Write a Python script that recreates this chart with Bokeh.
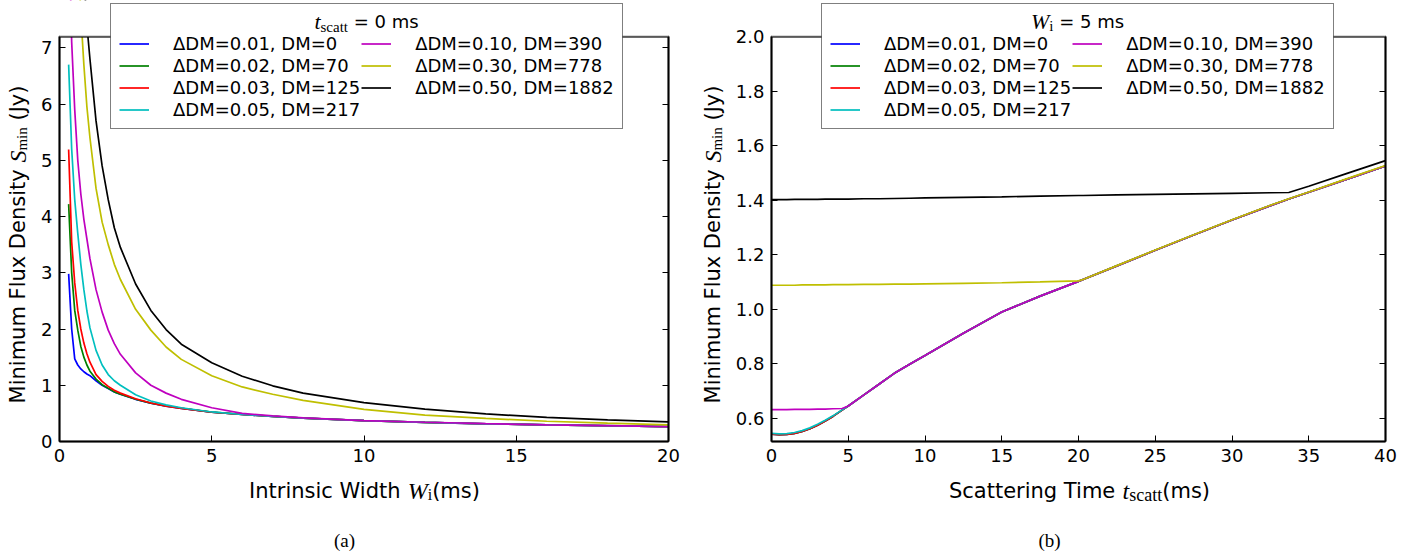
import math

from bokeh.embed import file_html
from bokeh.layouts import row
from bokeh.models import (BoxAnnotation, FixedTicker, Label, Legend, LegendItem,
                          LinearAxis, PrintfTickFormatter, Range1d)
from bokeh.plotting import figure
from bokeh.resources import INLINE

# ---------------------------------------------------------------- data
SERIES_LABELS = ["ΔDM=0.01, DM=0", "ΔDM=0.02, DM=70", "ΔDM=0.03, DM=125",
                 "ΔDM=0.05, DM=217", "ΔDM=0.10, DM=390", "ΔDM=0.30, DM=778",
                 "ΔDM=0.50, DM=1882"]
SERIES_COLORS = ["#0000ff", "#008000", "#ff0000", "#00bfbf",
                 "#bf00bf", "#bfbf00", "#000000"]

# (a) S_min against intrinsic width W_i, t_scatt = 0 ms
W_I = [0.3, 0.4, 0.5, 0.6, 0.7, 0.8, 0.9, 1.0, 1.2, 1.4, 1.6, 1.8, 2.0, 2.5,
       3.0, 3.5, 4.0, 5.0, 6.0, 7.0, 8.0, 10.0, 12.0, 14.0, 16.0, 18.0, 20.0]
S_A_DM001 = [2.98, 2.00, 1.47, 1.36, 1.29, 1.24, 1.20, 1.17, 1.08, 1.00, 0.94, 0.88, 0.84, 0.75,
             0.68, 0.63, 0.59, 0.52, 0.48, 0.445, 0.415, 0.37, 0.34, 0.315, 0.295, 0.28, 0.265]
S_A_DM002 = [4.22, 3.00, 2.33, 1.98, 1.69, 1.50, 1.36, 1.25, 1.11, 1.01, 0.945, 0.882, 0.842, 0.752,
             0.681, 0.631, 0.591, 0.521, 0.481, 0.446, 0.416, 0.371, 0.341, 0.316, 0.296, 0.281, 0.266]
S_A_DM003 = [5.19, 3.55, 2.82, 2.33, 2.00, 1.75, 1.56, 1.41, 1.19, 1.07, 0.98, 0.91, 0.86, 0.76,
             0.685, 0.63, 0.59, 0.52, 0.48, 0.445, 0.415, 0.37, 0.34, 0.315, 0.295, 0.28, 0.262]
S_A_DM005 = [6.70, 5.20, 4.30, 3.70, 3.15, 2.70, 2.32, 2.02, 1.62, 1.36, 1.19, 1.08, 1.00, 0.83,
             0.72, 0.65, 0.60, 0.525, 0.48, 0.445, 0.415, 0.37, 0.34, 0.315, 0.295, 0.28, 0.265]
S_A_DM010 = [9.50, 7.10, 5.90, 5.00, 4.40, 3.95, 3.60, 3.25, 2.70, 2.30, 1.98, 1.74, 1.55, 1.22,
             1.00, 0.86, 0.75, 0.60, 0.50, 0.455, 0.42, 0.372, 0.342, 0.317, 0.297, 0.281, 0.266]
S_A_DM030 = [17.0, 13.0, 10.5, 8.80, 7.60, 6.70, 5.95, 5.40, 4.50, 3.90, 3.50, 3.15, 2.88, 2.35,
             1.98, 1.68, 1.46, 1.17, 0.97, 0.84, 0.73, 0.57, 0.47, 0.41, 0.36, 0.325, 0.295]
S_A_DM050 = [22.0, 16.5, 13.5, 11.2, 9.60, 8.30, 7.40, 6.80, 5.70, 4.90, 4.30, 3.80, 3.45, 2.80,
             2.33, 1.99, 1.73, 1.40, 1.16, 0.99, 0.86, 0.69, 0.575, 0.49, 0.43, 0.385, 0.35]

# (b) S_min against scattering time t_scatt, W_i = 5 ms
T_SCATT = [0, 0.5, 1, 1.5, 2, 2.5, 3, 3.5, 4, 4.6, 5, 6, 7, 8, 9, 10, 12.5, 15,
           17.5, 20, 20.3, 22.5, 25, 27.5, 30, 32.5, 33.7, 35, 37.5, 40]
S_B_DM001 = [0.542, 0.540, 0.541, 0.545, 0.552, 0.562, 0.575, 0.590, 0.607, 0.630, 0.645,
             0.685, 0.725, 0.765, 0.798, 0.830, 0.912, 0.990, 1.048, 1.102, 1.109, 1.159,
             1.216, 1.272, 1.327, 1.380, 1.404, 1.429, 1.477, 1.525]
S_B_DM002 = [0.542, 0.540, 0.541, 0.545, 0.552, 0.562, 0.575, 0.590, 0.607, 0.630, 0.645,
             0.685, 0.725, 0.765, 0.798, 0.830, 0.912, 0.990, 1.048, 1.102, 1.109, 1.159,
             1.216, 1.272, 1.327, 1.380, 1.404, 1.429, 1.477, 1.525]
S_B_DM003 = [0.542, 0.540, 0.541, 0.545, 0.552, 0.562, 0.575, 0.590, 0.607, 0.630, 0.645,
             0.685, 0.725, 0.765, 0.798, 0.830, 0.912, 0.990, 1.048, 1.102, 1.109, 1.159,
             1.216, 1.272, 1.327, 1.380, 1.404, 1.429, 1.477, 1.525]
S_B_DM005 = [0.545, 0.543, 0.544, 0.548, 0.555, 0.565, 0.578, 0.593, 0.609, 0.631, 0.645,
             0.685, 0.725, 0.765, 0.798, 0.830, 0.912, 0.990, 1.048, 1.102, 1.109, 1.159,
             1.216, 1.272, 1.327, 1.380, 1.404, 1.429, 1.477, 1.525]
S_B_DM010 = [0.632, 0.632, 0.632, 0.633, 0.633, 0.633, 0.634, 0.634, 0.635, 0.636, 0.645,
             0.685, 0.725, 0.765, 0.798, 0.830, 0.912, 0.990, 1.048, 1.102, 1.109, 1.159,
             1.216, 1.272, 1.327, 1.380, 1.404, 1.429, 1.477, 1.525]
S_B_DM030 = [1.088, 1.088, 1.088, 1.088, 1.089, 1.089, 1.089, 1.089, 1.090, 1.090, 1.090,
             1.091, 1.091, 1.092, 1.092, 1.093, 1.095, 1.097, 1.100, 1.104, 1.109, 1.160,
             1.217, 1.273, 1.328, 1.381, 1.405, 1.430, 1.479, 1.527]
S_B_DM050 = [1.402, 1.402, 1.402, 1.403, 1.403, 1.403, 1.403, 1.404, 1.404, 1.404, 1.404,
             1.405, 1.405, 1.406, 1.407, 1.408, 1.410, 1.412, 1.415, 1.417, 1.417, 1.419,
             1.421, 1.423, 1.425, 1.427, 1.428, 1.451, 1.498, 1.545]

SERIES_A = [S_A_DM001, S_A_DM002, S_A_DM003, S_A_DM005, S_A_DM010, S_A_DM030, S_A_DM050]
SERIES_B = [S_B_DM001, S_B_DM002, S_B_DM003, S_B_DM005, S_B_DM010, S_B_DM030, S_B_DM050]

TICKS_A_X = [0, 5, 10, 15, 20]
TICKS_A_Y = [0, 1, 2, 3, 4, 5, 6, 7]
TICKS_B_X = [0, 5, 10, 15, 20, 25, 30, 35, 40]
TICKS_B_Y = [0.6, 0.8, 1.0, 1.2, 1.4, 1.6, 1.8, 2.0]

# ---------------------------------------------------------------- text helpers
SANS = "DejaVu Sans"
SERIF = "Liberation Serif"
HEIGHT = 557
LEGEND_W, LEGEND_H, LEGEND_Y = 512, 125, 428   # legend box size / bottom edge in px

# approximate advance widths (em) used to chain mixed-font text runs
SANS_W = {" ": .318, "(": .390, ")": .390, "=": .838, ".": .318, ",": .318,
          "I": .295, "W": .989, "M": .863, "F": .575, "D": .770, "S": .635,
          "T": .611, "J": .295, "a": .613, "c": .550, "d": .635, "e": .615,
          "g": .635, "h": .634, "i": .278, "l": .278, "m": .974, "n": .634,
          "r": .411, "s": .521, "t": .392, "u": .634, "x": .592, "y": .592}
SERIF_W = {"s": .389, "c": .444, "a": .444, "t": .278, "m": .778, "i": .278,
           "n": .500, "W": .833, "S": .500}


def run_width(text, font, size):
    table = SANS_W if font == SANS else SERIF_W
    return sum(table.get(ch, 0.636) for ch in text) * size


def add_runs(p, runs, center, line, vertical=False):
    """runs: (text, font, style, size_px, drop); `line` is the text's centre line and
    drop moves a run (subscripts) further down from it."""
    total = sum(run_width(t, f, s) for t, f, _, s, _ in runs)
    pos = center - total / 2.0
    for text, font, style, size, drop in runs:
        body = text.strip()
        lead = run_width(text[:len(text) - len(text.lstrip())], font, size)
        if vertical:
            x, y, ang = line + drop, pos + lead, math.pi / 2
        else:
            x, y, ang = pos + lead, line - drop, 0.0
        p.add_layout(Label(x=x, y=y, x_units="screen", y_units="screen", text=body,
                           angle=ang, text_font=font, text_font_style=style,
                           text_font_size=f"{size}px", text_color="black",
                           text_align="left", text_baseline="alphabetic",
                           level="overlay"))
        pos += run_width(text, font, size)


def pixel_range(v0, v1, p0, p1, total):
    """Range whose values v0, v1 fall on pixels p0, p1 of a frame `total` pixels long."""
    k = (p1 - p0) / (v1 - v0)
    start = v0 - p0 / k
    return Range1d(start, start + total / k)


def to_data(rng, px, total):
    return rng.start + px * (rng.end - rng.start) / total


def add_axis(p, side, ticks, loc, bounds, show_labels, fmt=None):
    ax = LinearAxis(fixed_location=loc, bounds=bounds, ticker=FixedTicker(ticks=ticks))
    if fmt is not None:
        ax.formatter = fmt
    ax.axis_line_color = "black"
    ax.axis_line_width = 2
    ax.major_tick_in = 6
    ax.major_tick_out = 0
    ax.major_tick_line_color = "black"
    ax.major_tick_line_width = 1
    ax.minor_tick_line_color = None
    ax.major_label_text_font = SANS
    ax.major_label_text_font_size = "18px"
    ax.major_label_standoff = 7
    ax.major_label_text_color = "black" if show_labels else None
    p.add_layout(ax, side)


def make_panel(width, xs, series, xlim, ylim, px_x, xticks, yticks, yfmt,
               legend_x, legend_title, xlabel, label_cx, ylabel_x, caption, caption_x):
    # frame covers the whole figure; the data box sits at px_x horizontally and
    # between 116 px and 521 px above the bottom edge
    xr = pixel_range(xlim[0], xlim[1], px_x[0], px_x[1], width)
    yr = pixel_range(ylim[0], ylim[1], 116, 521, HEIGHT)
    p = figure(width=width, height=HEIGHT, x_range=xr, y_range=yr,
               output_backend="svg", toolbar_location=None,
               x_axis_location=None, y_axis_location=None,
               min_border=0, min_border_left=0, min_border_right=0,
               min_border_top=0, min_border_bottom=0)
    p.grid.visible = False
    p.background_fill_color = "white"
    p.border_fill_color = "white"
    p.outline_line_color = None

    add_axis(p, "below", xticks, ylim[0], xlim, True)
    add_axis(p, "left", yticks, xlim[0], ylim, True, yfmt)
    add_axis(p, "above", xticks, ylim[1], xlim, False)
    add_axis(p, "right", yticks, xlim[1], ylim, False)

    items = []
    for label, color, ys in zip(SERIES_LABELS, SERIES_COLORS, series):
        r = p.line(xs, ys, line_color=color, line_width=1.7)
        items.append(LegendItem(label=label, renderers=[r]))

    # blank out curve segments above the top of the axes box, then draw the box
    p.add_layout(BoxAnnotation(left=xlim[0], right=xlim[1], bottom=ylim[1], top=yr.end,
                               fill_color="white", fill_alpha=1.0, line_color=None,
                               level="annotation"))
    p.add_layout(BoxAnnotation(left=xlim[0], right=xlim[1], bottom=ylim[0], top=ylim[1],
                               fill_color=None, line_color="black", line_width=2,
                               level="annotation"))
    # opaque backing for the legend, so the frame edge is hidden beneath it
    p.add_layout(BoxAnnotation(left=to_data(xr, legend_x, width),
                               right=to_data(xr, legend_x + LEGEND_W, width),
                               bottom=to_data(yr, LEGEND_Y, HEIGHT),
                               top=to_data(yr, LEGEND_Y + LEGEND_H, HEIGHT),
                               fill_color="white", fill_alpha=1.0, line_color=None,
                               level="annotation"))

    legend = Legend(items=items, location=(legend_x, LEGEND_Y), ncols=2,
                    label_text_font=SANS, label_text_font_size="18px",
                    label_text_color="black",
                    glyph_width=30, glyph_height=21, label_height=21,
                    label_standoff=24, spacing=1, padding=8, margin=0,
                    title=" ", title_text_font_size="18px", title_standoff=0,
                    border_line_color="black", border_line_width=1.5,
                    background_fill_color=None, background_fill_alpha=0.0,
                    level="annotation")
    p.add_layout(legend)

    add_runs(p, legend_title, legend_x + LEGEND_W / 2.0, 536)
    add_runs(p, xlabel, label_cx, 67)
    add_runs(p, YLABEL, 313, ylabel_x, vertical=True)
    p.add_layout(Label(x=caption_x, y=17, x_units="screen", y_units="screen",
                       text=caption, text_font=SERIF, text_font_size="19px",
                       text_color="black", text_align="center",
                       text_baseline="alphabetic"))
    return p


YLABEL = [("Minimum Flux Density ", SANS, "normal", 21, 0),
          ("S", SERIF, "italic", 24, 0),
          ("min", SERIF, "normal", 15, 4),
          (" (Jy)", SANS, "normal", 21, 0)]

panel_a = make_panel(
    690, W_I, SERIES_A, (0, 20), (0, 7.2), (59, 668), TICKS_A_X, TICKS_A_Y, None,
    110,
    [("t", SERIF, "italic", 22, 0), ("scatt", SERIF, "normal", 15, 5),
     (" = 0 ms", SANS, "normal", 18, 0)],
    [("Intrinsic Width ", SANS, "normal", 21, 0), ("W", SERIF, "italic", 24, 0),
     ("i", SERIF, "normal", 16, 4), ("(ms)", SANS, "normal", 21, 0)],
    364, 17, "(a)", 344)

panel_b = make_panel(
    732, T_SCATT, SERIES_B, (0, 40), (0.515, 2.0), (81, 695), TICKS_B_X, TICKS_B_Y,
    PrintfTickFormatter(format="%.1f"),
    131,
    [("W", SERIF, "italic", 22, 0), ("i", SERIF, "normal", 15, 4),
     (" = 5 ms", SANS, "normal", 18, 0)],
    [("Scattering Time ", SANS, "normal", 21, 0), ("t", SERIF, "italic", 24, 0),
     ("scatt", SERIF, "normal", 18, 4), ("(ms)", SANS, "normal", 21, 0)],
    389, 22, "(b)", 359)

layout = row(panel_a, panel_b)
open("out.html", "w").write(file_html(layout, INLINE))
